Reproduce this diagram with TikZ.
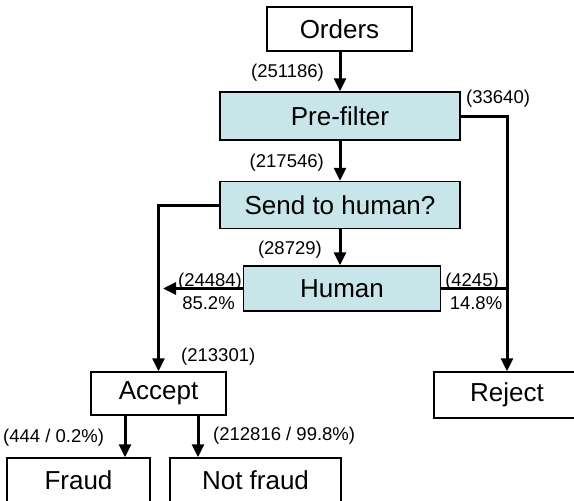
\documentclass[tikz,border=0pt]{standalone}
\usepackage{fontspec}
\setmainfont{Liberation Sans}
\usepackage{xcolor}
\usetikzlibrary{positioning, arrows.meta, calc}
\definecolor{stepfill}{RGB}{200,230,234}
\begin{document}
\begin{tikzpicture}[x=1pt, y=-1pt]
  \tikzset{
    box/.style={draw=black, line width=1.5pt, inner sep=0pt, font=\fontsize{26}{29}\selectfont},
    shaded/.style={box, fill=stepfill},
    flow/.style={line width=3pt, -{Triangle[width=12pt, length=13pt]}},
    link/.style={line width=3pt},
    count/.style={font=\fontsize{18.5}{20}\selectfont, inner sep=0pt},
  }
  \clip (0,0) rectangle (574,501);
  %% boxes
  \node[box, minimum width=145pt, minimum height=44pt] (orders) at (339.5,29) {Orders};
  \node[shaded, minimum width=240pt, minimum height=48pt] (prefilter) at (340,116) {Pre-filter};
  \node[shaded, minimum width=240pt, minimum height=47pt] (send) at (340,205) {Send to human?};
  \node[shaded, minimum width=197pt, minimum height=45pt] (human) at (342,288.5) {Human};
  \node[box, minimum width=135pt, minimum height=43pt] (accept) at (158.5,393.5) {Accept};
  \node[box, minimum width=146pt, minimum height=46pt] (reject) at (507,395) {Reject};
  \node[box, minimum width=143pt, minimum height=45pt] (fraud) at (78.5,480.5) {Fraud};
  \node[box, minimum width=171pt, minimum height=45pt] (notfraud) at (255.5,480.5) {Not fraud};
  \coordinate (hleft) at (163,288.5);
  %% connectors
  \draw[flow] (orders.south -| prefilter.north) -- (prefilter.north);
  \draw[flow] (prefilter.south) -- (send.north);
  \draw[flow] (send.south) -- (send.south |- human.north);
  \draw[flow] (prefilter.east) -| (reject.north);
  \draw[link] (human.east) -- (human.east -| reject.north);
  \draw[flow] (send.west) -| (accept.north);
  \draw[flow] (human.west) -- (hleft);
  \draw[flow] ([xshift=-33.5pt]accept.south) -- ([xshift=-33.5pt]accept.south |- fraud.north);
  \draw[flow] ([xshift=39.5pt]accept.south) -- ([xshift=39.5pt]accept.south |- notfraud.north);
  %% counts
  \node[count, anchor=east] (c1) at (324,73) {(251186)};
  \node[count, anchor=west] (c2) at (466,99) {(33640)};
  \node[count, anchor=east] (c3) at (324,163) {(217546)};
  \node[count, anchor=east] (c4) at (322,250) {(28729)};
  \node[count] (c5) at (210,282) {(24484)};
  \node[count] (c5p) at (208.5,303) {85.2\%};
  \node[count] (c6) at (472,282) {(4245)};
  \node[count] (c6p) at (476,303) {14.8\%};
  \node[count, anchor=west] (c7) at (181,357) {(213301)};
  \node[count, anchor=west] (c8) at (3,438) {(444 / 0.2\%)};
  \node[count, anchor=west] (c9) at (213,436) {(212816 / 99.8\%)};
\end{tikzpicture}
\end{document}
